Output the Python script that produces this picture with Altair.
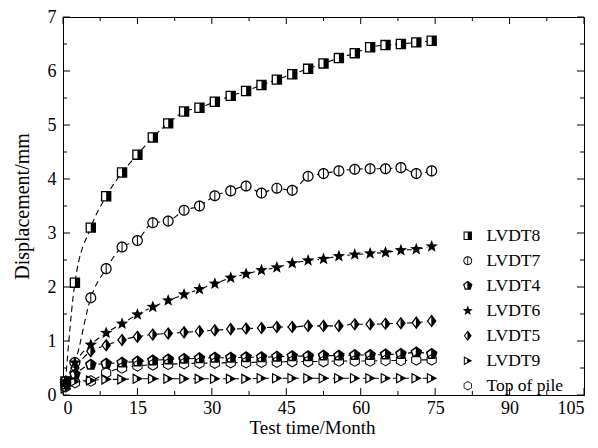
import altair as alt
import pandas as pd

# ---- data ----
time = [0.5, 2.4, 5.6, 8.7, 11.9, 15.0, 18.1, 21.2, 24.4, 27.5, 30.6, 33.8, 36.9,
        40.0, 43.1, 46.2, 49.4, 52.5, 55.6, 58.8, 61.9, 65.0, 68.1, 71.2, 74.3]

lvdt8 = [0.25, 2.08, 3.10, 3.68, 4.12, 4.45, 4.77, 5.03, 5.25, 5.32, 5.43, 5.54, 5.63,
         5.74, 5.84, 5.94, 6.04, 6.14, 6.24, 6.33, 6.44, 6.48, 6.50, 6.53, 6.56]
lvdt7 = [0.25, 0.60, 1.80, 2.34, 2.74, 2.86, 3.19, 3.22, 3.42, 3.50, 3.69, 3.78, 3.87,
         3.74, 3.83, 3.79, 4.05, 4.10, 4.15, 4.18, 4.19, 4.19, 4.21, 4.10, 4.15]
lvdt4 = [0.20, 0.38, 0.56, 0.58, 0.60, 0.62, 0.64, 0.66, 0.67, 0.68, 0.69, 0.69, 0.70,
         0.70, 0.71, 0.72, 0.72, 0.73, 0.73, 0.74, 0.74, 0.75, 0.76, 0.79, 0.76]
lvdt6 = [0.25, 0.60, 0.93, 1.15, 1.32, 1.49, 1.63, 1.75, 1.86, 1.96, 2.06, 2.17, 2.24,
         2.31, 2.36, 2.44, 2.49, 2.52, 2.57, 2.60, 2.62, 2.64, 2.68, 2.70, 2.75]
lvdt5 = [0.22, 0.50, 0.81, 0.92, 1.02, 1.08, 1.12, 1.14, 1.16, 1.18, 1.20, 1.22, 1.23,
         1.24, 1.26, 1.26, 1.28, 1.28, 1.28, 1.31, 1.31, 1.32, 1.33, 1.34, 1.37]
lvdt9 = [0.12, 0.25, 0.27, 0.29, 0.29, 0.30, 0.30, 0.30, 0.30, 0.30, 0.30, 0.30, 0.30,
         0.31, 0.31, 0.31, 0.31, 0.31, 0.31, 0.31, 0.31, 0.31, 0.31, 0.31, 0.31]
top_pile = [0.15, 0.23, 0.26, 0.41, 0.50, 0.54, 0.56, 0.57, 0.58, 0.59, 0.59, 0.60, 0.60,
            0.61, 0.61, 0.62, 0.62, 0.62, 0.63, 0.63, 0.63, 0.64, 0.64, 0.65, 0.65]

series_names = ["LVDT8", "LVDT7", "LVDT4", "LVDT6", "LVDT5", "LVDT9", "Top of pile"]
series_values = [lvdt8, lvdt7, lvdt4, lvdt6, lvdt5, lvdt9, top_pile]

x_ticks = [0, 15, 30, 45, 60, 75, 90, 105]
x_minor = [7.5, 22.5, 37.5, 52.5, 67.5, 82.5, 97.5]
y_ticks = [0, 1, 2, 3, 4, 5, 6, 7]
y_minor = [0.5, 1.5, 2.5, 3.5, 4.5, 5.5, 6.5]

# half-filled marker outlines (single filled paths with holes)
shape_paths = [
    # square, right half filled
    "M-0.8,-0.8L0.8,-0.8L0.8,0.8L-0.8,0.8Z M-0.6,-0.6L-0.6,0.6L0,0.6L0,-0.6Z",
    # circle with vertical bar
    "M0,-0.85A0.85,0.85,0,1,1,0,0.85A0.85,0.85,0,1,1,0,-0.85Z "
    "M-0.08,-0.665A0.67,0.67,0,0,0,-0.08,0.665Z M0.08,0.665A0.67,0.67,0,0,0,0.08,-0.665Z",
    # pentagon, right half filled
    "M0,-0.95L0.9,-0.29L0.56,0.77L-0.56,0.77L-0.9,-0.29Z M-0.08,-0.6L-0.63,-0.2L-0.39,0.54L-0.08,0.54Z",
    # star
    "M0,-1L0.247,-0.34L0.951,-0.309L0.399,0.13L0.588,0.809L0,0.42L-0.588,0.809L-0.399,0.13L-0.951,-0.309L-0.247,-0.34Z",
    # diamond, right half filled
    "M0,-1L0.75,0L0,1L-0.75,0Z M-0.06,-0.6L-0.51,0L-0.06,0.6Z",
    # right triangle, right part filled
    "M-0.75,-0.85L0.85,0L-0.75,0.85Z M-0.57,-0.52L-0.57,0.52L-0.1,0.29L-0.1,-0.29Z",
    # open hexagon
    "M0,-0.9L0.779,-0.45L0.779,0.45L0,0.9L-0.779,0.45L-0.779,-0.45Z "
    "M0,-0.72L-0.624,-0.36L-0.624,0.36L0,0.72L0.624,0.36L0.624,-0.36Z",
]

rows = []
for name, vals in zip(series_names, series_values):
    for t, v in zip(time, vals):
        rows.append({"t": t, "d": v, "series": name})
df = pd.DataFrame(rows)

W, H = 521, 378
FONT = "Liberation Serif"
MAJ, MIN = 7, 4

x_scale = alt.Scale(domain=[0, 105], nice=False, zero=False)
y_scale = alt.Scale(domain=[0, 7], nice=False, zero=False)

x_main = alt.Axis(values=x_ticks, title="Test time/Month", tickSize=0, labelPadding=4,
                  grid=False, domainColor="black", labelFont=FONT, titleFont=FONT,
                  labelFontSize=18, titleFontSize=19, titlePadding=1, titleX=249,
                  labelColor="black", titleColor="black", titleFontWeight="normal")
y_main = alt.Axis(values=y_ticks, title="Displacement/mm", tickSize=0, labelPadding=7,
                  grid=False, domainColor="black", labelFont=FONT, titleFont=FONT,
                  labelFontSize=18, titleFontSize=20, titlePadding=15,
                  labelColor="black", titleColor="black", titleFontWeight="normal")

base = alt.Chart(df)
X = alt.X("t:Q", scale=x_scale, axis=x_main)
Y = alt.Y("d:Q", scale=y_scale, axis=y_main)

lines = base.mark_line(color="black", strokeWidth=1.1, strokeDash=[6, 4],
                       interpolate="monotone").encode(x=X, y=Y, detail="series:N")

bg = base.mark_point(filled=True, color="white", opacity=1, size=80, shape="circle",
                     strokeWidth=0).encode(x=X, y=Y)

points = base.mark_point(filled=True, color="black", opacity=1, size=170,
                         strokeWidth=0).encode(
    x=X, y=Y,
    shape=alt.Shape("series:N", sort=series_names,
                    scale=alt.Scale(domain=series_names, range=shape_paths),
                    legend=alt.Legend(title=None, orient="none", legendX=396, legendY=210,
                                      labelFont=FONT, labelFontSize=17.5, labelColor="black",
                                      symbolSize=110, symbolFillColor="black",
                                      symbolStrokeWidth=0, symbolOpacity=1,
                                      rowPadding=6, labelOffset=10)),
)

# inward tick marks on all four sides
tick_layers = []
for vals, length in ((x_ticks, MAJ), (x_minor, MIN)):
    d = pd.DataFrame({"t": vals})
    c = alt.Chart(d).mark_rule(color="black", strokeWidth=1)
    tick_layers.append(c.encode(x=X, y=alt.value(H), y2=alt.value(H - length)))
    tick_layers.append(c.encode(x=X, y=alt.value(0), y2=alt.value(length)))
for vals, length in ((y_ticks, MAJ), (y_minor, MIN)):
    d = pd.DataFrame({"d": vals})
    c = alt.Chart(d).mark_rule(color="black", strokeWidth=1)
    tick_layers.append(c.encode(y=Y, x=alt.value(0), x2=alt.value(length)))
    tick_layers.append(c.encode(y=Y, x=alt.value(W), x2=alt.value(W - length)))

chart = alt.layer(lines, bg, points, *tick_layers).properties(
    width=W, height=H,
    autosize=alt.AutoSizeParams(type="none"),
    padding={"left": 55, "top": 9, "right": 6, "bottom": 45},
).configure_view(
    stroke="black", strokeWidth=1,
).configure_axis(
    labelFont=FONT, titleFont=FONT,
)

chart.save("out.html", embed_options={"renderer": "svg", "actions": False})
